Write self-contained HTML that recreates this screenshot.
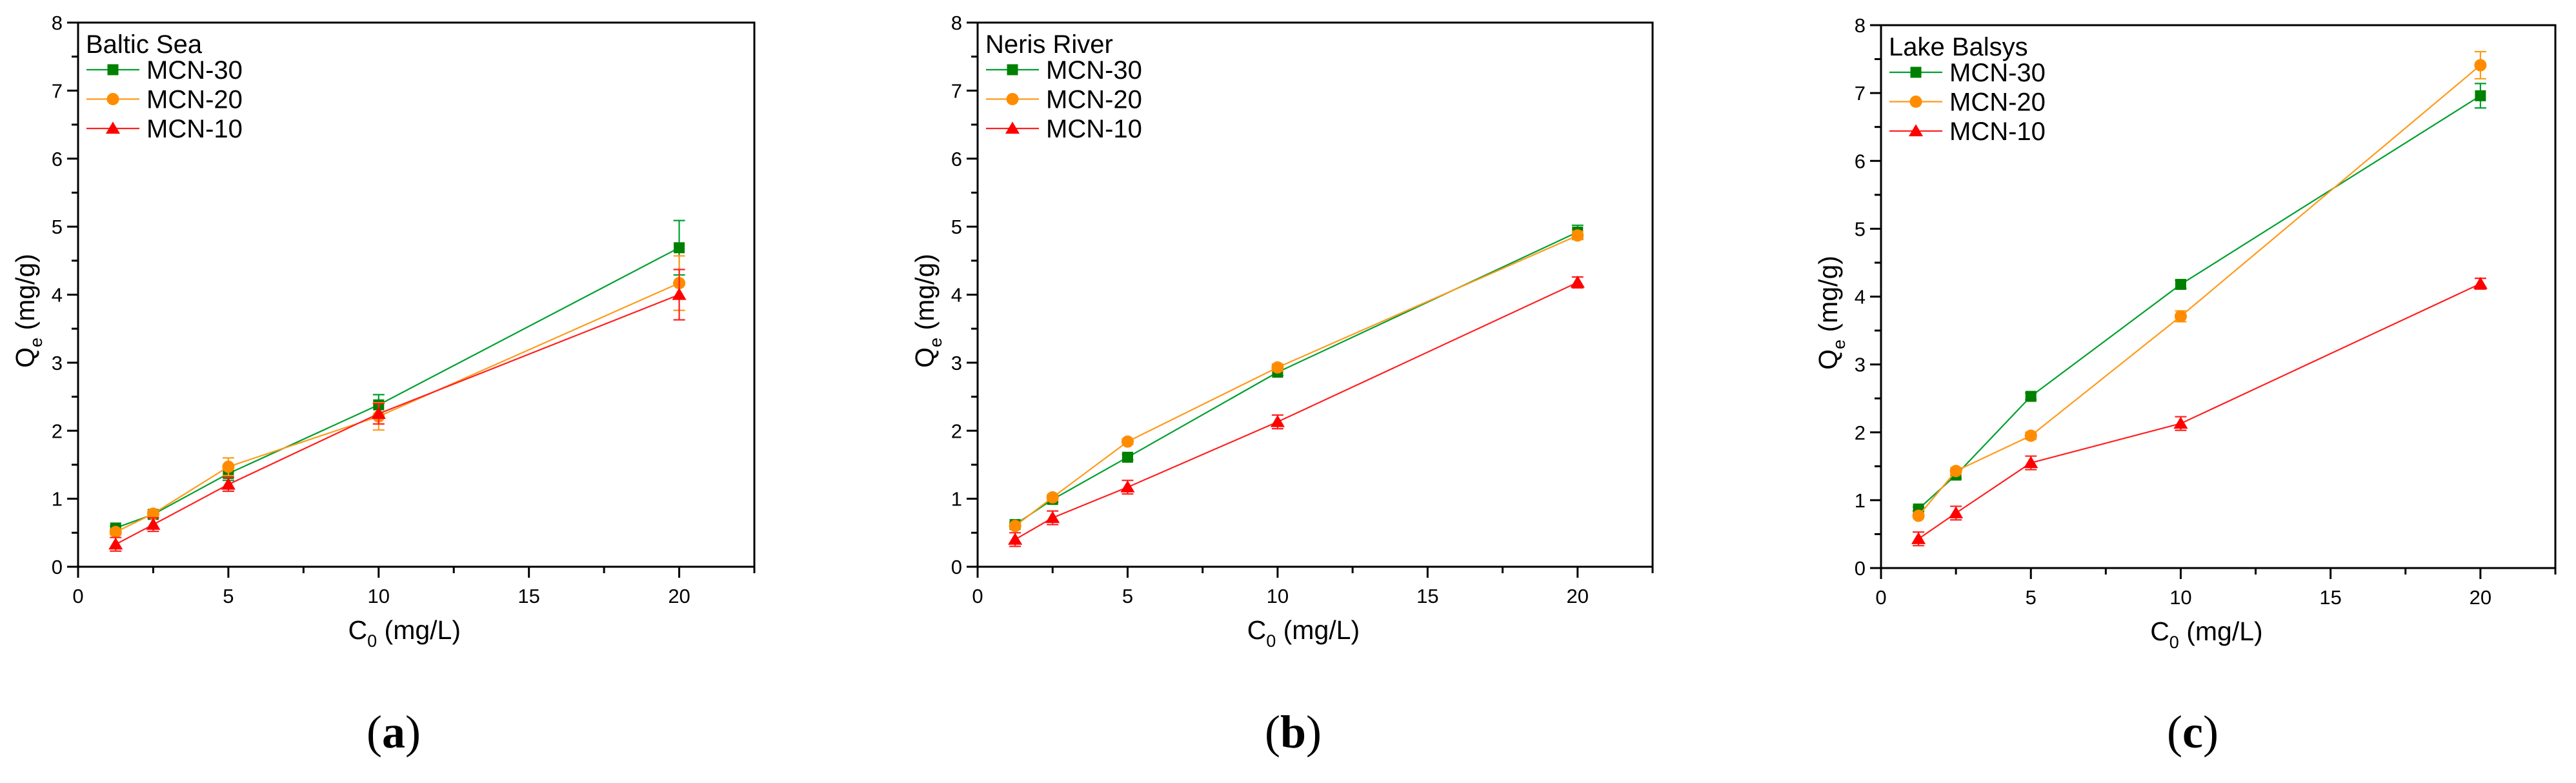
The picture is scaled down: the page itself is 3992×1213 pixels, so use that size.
<!DOCTYPE html>
<html><head><meta charset="utf-8"><style>
html,body{margin:0;padding:0;background:#fff;}
svg{display:block;}
text{font-family:"Liberation Sans",sans-serif;fill:#000;}
</style></head><body>
<svg id="fig" width="3992" height="1213" viewBox="0 0 3992 1213" xmlns="http://www.w3.org/2000/svg"></svg>
<script>
const xValues = [1.25, 2.5, 5, 10, 20];
const seriesNames = ['MCN-30', 'MCN-20', 'MCN-10'];
const panelTitles = ['Baltic Sea', 'Neris River', 'Lake Balsys'];
const panelCaptions = ['a', 'b', 'c'];
const xTickLabels = [0, 5, 10, 15, 20];
const yTickLabels = [0, 1, 2, 3, 4, 5, 6, 7, 8];
// Baltic Sea
const balticMCN30 = [0.57, 0.77, 1.37, 2.38, 4.69];
const balticMCN30Err = [0.03, 0.05, 0.1, 0.15, 0.4];
const balticMCN20 = [0.51, 0.78, 1.47, 2.21, 4.17];
const balticMCN20Err = [0.04, 0.05, 0.13, 0.2, 0.4];
const balticMCN10 = [0.33, 0.62, 1.21, 2.25, 4.0];
const balticMCN10Err = [0.1, 0.1, 0.1, 0.15, 0.37];
// Neris River
const nerisMCN30 = [0.62, 0.99, 1.61, 2.86, 4.92];
const nerisMCN30Err = [0.03, 0.04, 0.04, 0.05, 0.1];
const nerisMCN20 = [0.6, 1.02, 1.84, 2.93, 4.87];
const nerisMCN20Err = [0.03, 0.04, 0.04, 0.05, 0.06];
const nerisMCN10 = [0.4, 0.72, 1.17, 2.13, 4.18];
const nerisMCN10Err = [0.1, 0.1, 0.1, 0.1, 0.08];
// Lake Balsys
const balsysMCN30 = [0.87, 1.37, 2.53, 4.18, 6.96];
const balsysMCN30Err = [0.03, 0.05, 0.05, 0.06, 0.18];
const balsysMCN20 = [0.77, 1.43, 1.95, 3.71, 7.41];
const balsysMCN20Err = [0.03, 0.05, 0.05, 0.08, 0.2];
const balsysMCN10 = [0.43, 0.81, 1.55, 2.13, 4.19];
const balsysMCN10Err = [0.1, 0.1, 0.1, 0.1, 0.08];

const panelData = [
  [[balticMCN30, balticMCN30Err], [balticMCN20, balticMCN20Err], [balticMCN10, balticMCN10Err]],
  [[nerisMCN30, nerisMCN30Err], [nerisMCN20, nerisMCN20Err], [nerisMCN10, nerisMCN10Err]],
  [[balsysMCN30, balsysMCN30Err], [balsysMCN20, balsysMCN20Err], [balsysMCN10, balsysMCN10Err]]
];
const layout = [
  {l:121, r:1169, t:35, b:878, cx:610},
  {l:1515, r:2561, t:35, b:878, cx:2004},
  {l:2915, r:3960, t:39, b:880, cx:3398}
];
const markerColors = ['#008000', '#ff8c00', '#ff0000'];
const lineColors = ['#00a030', '#ff9a1a', '#ff2020'];
const NS = 'http://www.w3.org/2000/svg';
const svg = document.getElementById('fig');
function mk(tag, attrs, parent, text){
  const e = document.createElementNS(NS, tag);
  for (const k in attrs) e.setAttribute(k, attrs[k]);
  if (text !== undefined) e.textContent = text;
  (parent || svg).appendChild(e);
  return e;
}
function marker(g, k, x, y, s){
  let e;
  if (k === 0) e = mk('rect', {x:x-s, y:y-s, width:2*s, height:2*s, fill:markerColors[0]}, g);
  else if (k === 1) e = mk('circle', {cx:x, cy:y, r:s*1.12, fill:markerColors[1]}, g);
  else e = mk('polygon', {points:`${x},${y-s*1.25} ${x+s*1.3},${y+s*0.95} ${x-s*1.3},${y+s*0.95}`, fill:markerColors[2]}, g);
  return e;
}
layout.forEach((L, p) => {
  const sx = v => L.l + (L.r - L.l) * v / 22.5;
  const sy = v => L.b - (L.b - L.t) * v / 8;
  const g = mk('g', {});
  
  
  panelData[p].forEach((sd, k) => {
    const sg = mk('g', {}, g);
    
    
    const vals = sd[0], errs = sd[1];
    const pts = vals.map((v, i) => sx(xValues[i]) + ',' + sy(v)).join(' ');
    mk('polyline', {points:pts, fill:'none', stroke:lineColors[k], 'stroke-width':2.2}, sg);
    vals.forEach((v, i) => {
      const x = sx(xValues[i]);
      const eb = mk('g', {stroke:lineColors[k], 'stroke-width':2.2}, sg);
      
      
      const y1 = sy(v + errs[i]), y2 = sy(v - errs[i]);
      mk('line', {x1:x, x2:x, y1:y1, y2:y2}, eb);
      mk('line', {x1:x-9, x2:x+9, y1:y1, y2:y1}, eb);
      mk('line', {x1:x-9, x2:x+9, y1:y2, y2:y2}, eb);
      const m = marker(sg, k, x, sy(v), 8.5);
      
      
    });
  });
  const fr = mk('rect', {x:L.l, y:L.t, width:L.r-L.l, height:L.b-L.t, fill:'none', stroke:'#000', 'stroke-width':3}, g);
  
  
  for (let v = 0; v <= 22.5; v += 2.5) {
    const major = v % 5 === 0;
    mk('line', {x1:sx(v), x2:sx(v), y1:L.b, y2:L.b + (major ? 17 : 10), stroke:'#000', 'stroke-width':3}, g);
  }
  xTickLabels.forEach(v => {
    const t = mk('text', {x:sx(v), y:L.b + 56, 'text-anchor':'middle', 'font-size':31}, g, String(v));
    
    
  });
  for (let v = 0; v <= 8; v += 0.5) {
    const major = v % 1 === 0;
    mk('line', {x1:L.l, x2:L.l - (major ? 17 : 10), y1:sy(v), y2:sy(v), stroke:'#000', 'stroke-width':3}, g);
  }
  yTickLabels.forEach(v => {
    const t = mk('text', {x:L.l - 24, y:sy(v) + 11, 'text-anchor':'end', 'font-size':31}, g, String(v));
    
    
  });
  const xt = mk('text', {x:(L.l + sx(20)) / 2 + 40, y:L.b + 112, 'text-anchor':'middle', 'font-size':41}, g);
  
  
  xt.innerHTML = 'C<tspan dy="12" font-size="27">0</tspan><tspan dy="-12"> (mg/L)</tspan>';
  const yt = mk('text', {transform:`translate(${L.l - 68},${(L.t + L.b) / 2 + 25}) rotate(-90)`, 'text-anchor':'middle', 'font-size':41}, g);
  
  
  yt.innerHTML = 'Q<tspan dy="12" font-size="27">e</tspan><tspan dy="-12"> (mg/g)</tspan>';
  const lg = mk('g', {}, g);
  
  
  const lt = mk('text', {x:L.l + 12, y:L.t + 47, 'font-size':40}, lg, panelTitles[p]);
  
  
  seriesNames.forEach((n, k) => {
    const ey = L.t + 73 + k * 45.5;
    const en = mk('g', {}, lg);
    
    
    mk('line', {x1:L.l + 13, x2:L.l + 95, y1:ey, y2:ey, stroke:lineColors[k], 'stroke-width':2.2}, en);
    marker(en, k, L.l + 54, ey, 8.5);
    mk('text', {x:L.l + 106, y:ey + 14, 'font-size':40}, en, n);
  });
  const cap = mk('text', {x:L.cx, y:1158, 'text-anchor':'middle', 'font-size':72, style:'font-family:"Liberation Serif",serif'}, g);
  
  
  cap.innerHTML = '(<tspan font-weight="bold">' + panelCaptions[p] + '</tspan>)';
});
</script>
</body></html>
